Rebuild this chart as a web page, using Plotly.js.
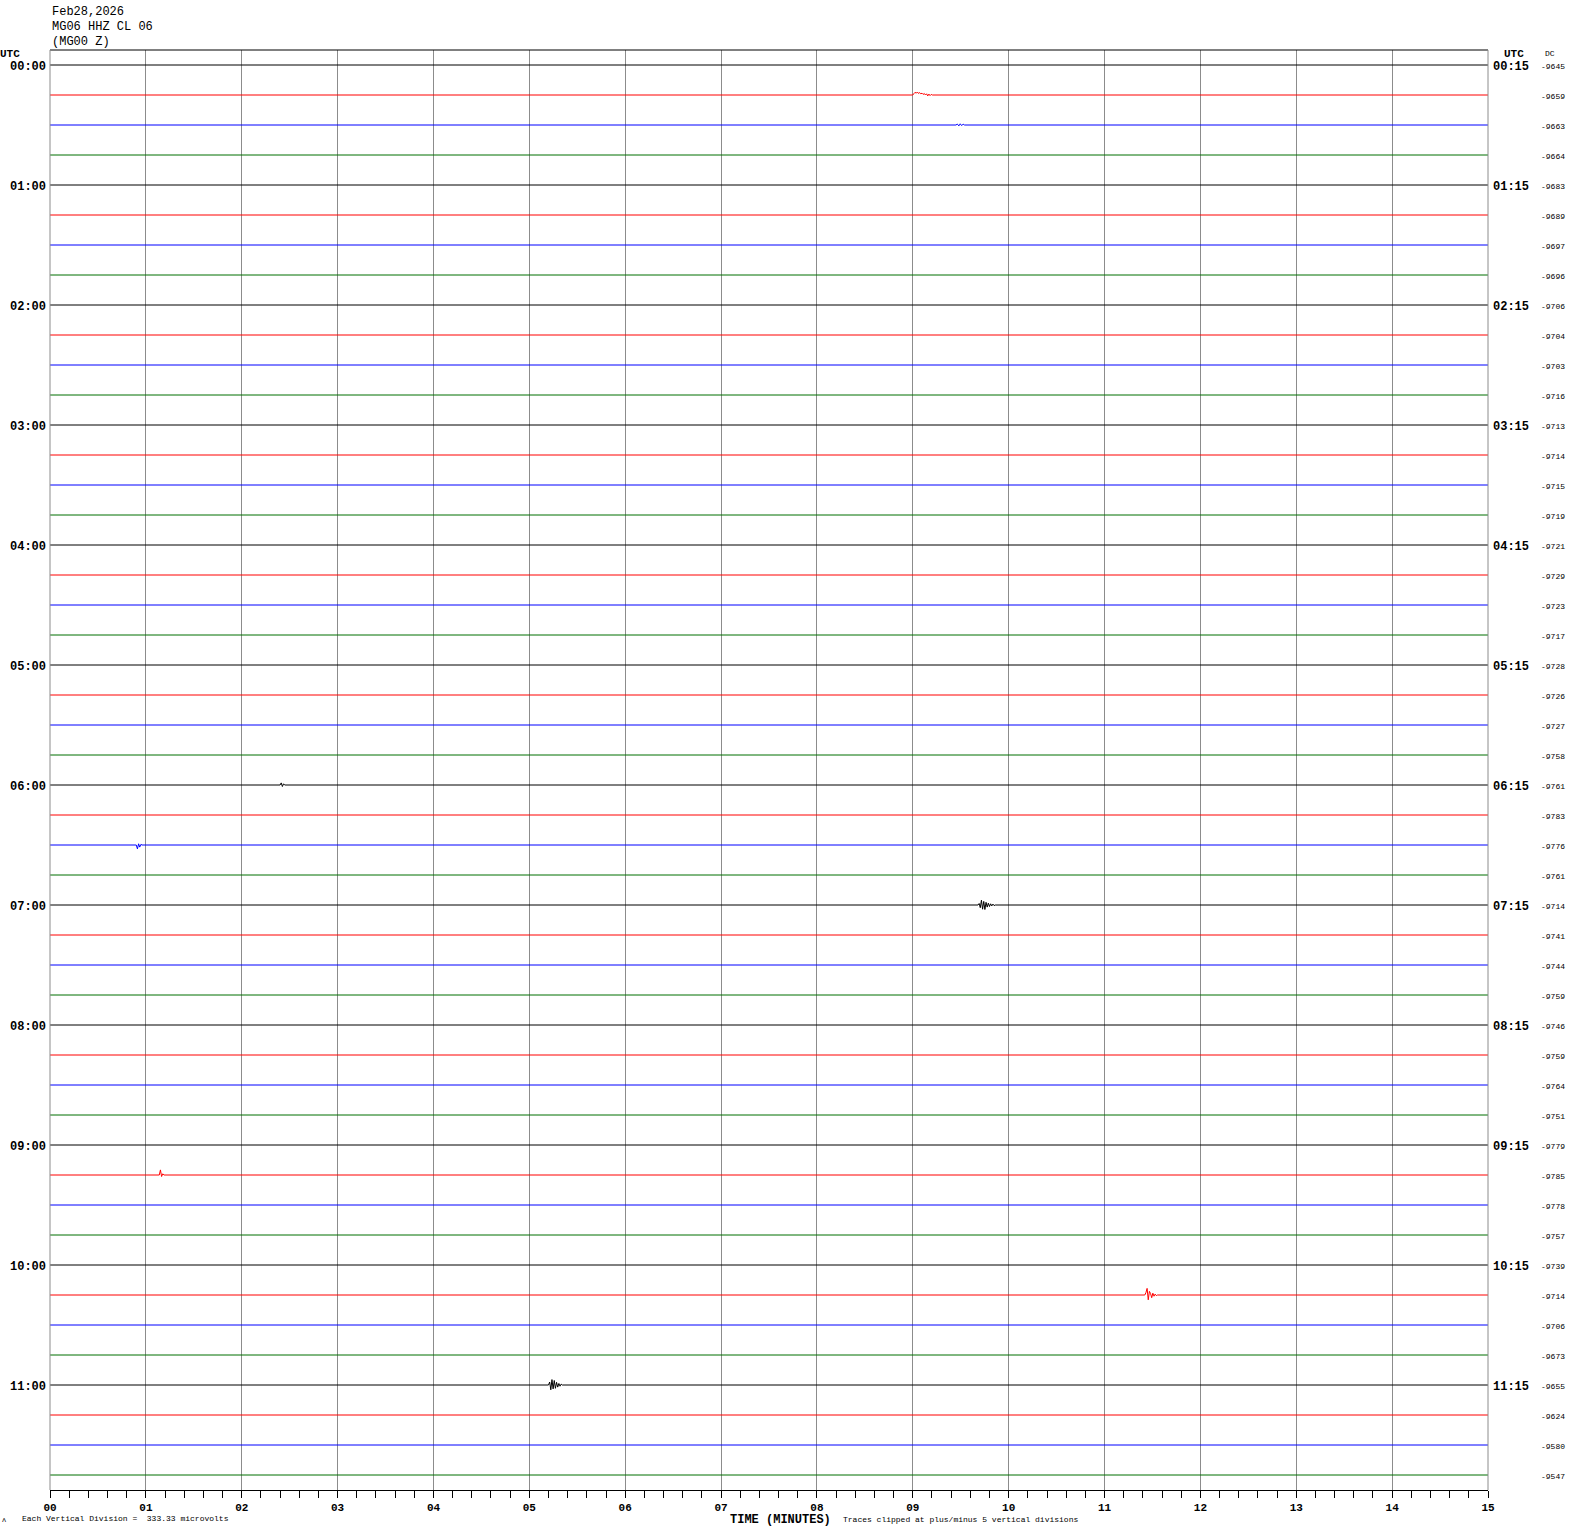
<!DOCTYPE html>
<html>
<head>
<meta charset="utf-8">
<script src="https://cdn.plot.ly/plotly-3.0.1.min.js"></script>
<style>
html,body{margin:0;padding:0;background:#fff;}
#chart{width:1570px;height:1534px;}
</style>
</head>
<body>
<div id="chart"></div>
<script>
// ---------- data ----------
const headerLines = ['Feb28,2026', 'MG06 HHZ CL 06', '(MG00 Z)'];
const leftHourLabels = ['00:00','01:00','02:00','03:00','04:00','05:00','06:00','07:00','08:00','09:00','10:00','11:00'];
const rightHourLabels = ['00:15','01:15','02:15','03:15','04:15','05:15','06:15','07:15','08:15','09:15','10:15','11:15'];
const dcValues = [
  -9645, -9659, -9663, -9664,
  -9683, -9689, -9697, -9696,
  -9706, -9704, -9703, -9716,
  -9713, -9714, -9715, -9719,
  -9721, -9729, -9723, -9717,
  -9728, -9726, -9727, -9758,
  -9761, -9783, -9776, -9761,
  -9714, -9741, -9744, -9759,
  -9746, -9759, -9764, -9751,
  -9779, -9785, -9778, -9757,
  -9739, -9714, -9706, -9673,
  -9655, -9624, -9580, -9547
];
const minuteLabels = ['00','01','02','03','04','05','06','07','08','09','10','11','12','13','14','15'];
const minuteValues = [0,1,2,3,4,5,6,7,8,9,10,11,12,13,14,15];
// notable events (row index, start minute, sample step in minutes, amplitudes in row units, + = up)
const eventRows   = [1, 2, 24, 26, 28, 37, 41, 44];
const eventStarts = [9.0, 9.45, 2.40, 0.90, 9.68, 1.14, 11.42, 5.20];
const eventSteps  = [0.012, 0.015, 0.012, 0.012, 0.012, 0.012, 0.012, 0.012];
const eventAmps = [
  [0, 0.05, 0.09, 0.06, 0.10, 0.05, 0.08, 0.04, 0.06, 0.02, 0.05, 0.0, 0.04, -0.03, 0.03, -0.02, 0.02, 0],
  [0, 0.03, -0.03, 0.04, -0.02, 0.03, 0],
  [0, 0.07, -0.05, 0.04, 0],
  [0, -0.13, 0.04, -0.07, 0.02, 0],
  [0, 0.05, -0.09, 0.16, -0.14, 0.12, -0.15, 0.09, -0.07, 0.06, -0.05, 0.04, -0.03, 0.03, -0.02, 0],
  [0, 0.17, -0.05, 0.04, 0],
  [0, 0.08, 0.22, -0.16, 0.12, 0.05, -0.09, 0.06, -0.04, 0.03, -0.02, 0],
  [0, 0.10, -0.16, 0.18, -0.13, 0.15, -0.11, 0.09, -0.07, 0.05, -0.04, 0.03, 0]
];
const bottomNote = 'Each Vertical Division =  333.33 microvolts';
const clipNote = 'Traces clipped at plus/minus 5 vertical divisions';
const xTitle = 'TIME (MINUTES)';

// ---------- styles ----------
const rowColors = ['#000000', '#ff0000', '#0000ff', '#006e00'];
const nRows = dcValues.length;
const L = 50, R = 1488, T = 50, B = 1490;
const px2x = p => (p - L) / (R - L);
const py2y = p => (B - p) / (B - T);
const mono = 'Liberation Mono, DejaVu Sans Mono, monospace';

// ---------- traces ----------
const traces = [];
for (let r = 0; r < nRows; r++) {
  const xs = [0], ys = [r];
  const evIdx = [];
  eventRows.forEach((er, i) => { if (er === r) evIdx.push(i); });
  evIdx.sort((a, b) => eventStarts[a] - eventStarts[b]);
  evIdx.forEach(i => {
    eventAmps[i].forEach((a, k) => {
      xs.push(eventStarts[i] + k * eventSteps[i]);
      ys.push(r - a);
    });
  });
  xs.push(15); ys.push(r);
  traces.push({
    x: xs, y: ys, type: 'scatter', mode: 'lines',
    line: {color: rowColors[r % 4], width: 1},
    hoverinfo: 'skip', showlegend: false
  });
}

// ---------- annotations ----------
const ann = [];
headerLines.forEach((t, i) => {
  ann.push({text: t, xref: 'paper', yref: 'paper', x: 0, y: py2y(12 + i * 15),
    xanchor: 'left', yanchor: 'middle', showarrow: false,
    font: {family: mono, size: 12, color: '#000'}});
});
ann.push({text: 'UTC', xref: 'paper', yref: 'paper', x: px2x(10), y: py2y(54),
  xanchor: 'center', yanchor: 'middle', showarrow: false,
  font: {family: mono, size: 11, color: '#000', weight: 'bold'}});
ann.push({text: 'UTC', xref: 'paper', yref: 'paper', x: px2x(1514), y: py2y(54),
  xanchor: 'center', yanchor: 'middle', showarrow: false,
  font: {family: mono, size: 11, color: '#000', weight: 'bold'}});
ann.push({text: 'DC', xref: 'paper', yref: 'paper', x: px2x(1550), y: py2y(54),
  xanchor: 'center', yanchor: 'middle', showarrow: false,
  font: {family: mono, size: 8, color: '#000'}});
leftHourLabels.forEach((t, i) => {
  ann.push({text: t, xref: 'paper', yref: 'y', x: 0, y: i * 4, xshift: -2, yshift: -2,
    xanchor: 'right', yanchor: 'middle', showarrow: false,
    font: {family: mono, size: 12, color: '#000', weight: 'bold'}});
});
rightHourLabels.forEach((t, i) => {
  ann.push({text: t, xref: 'paper', yref: 'y', x: 1, y: i * 4, xshift: 3, yshift: -2,
    xanchor: 'left', yanchor: 'middle', showarrow: false,
    font: {family: mono, size: 12, color: '#000', weight: 'bold'}});
});
dcValues.forEach((v, i) => {
  ann.push({text: String(v), xref: 'paper', yref: 'y', x: px2x(1539), y: i, yshift: -1,
    xanchor: 'left', yanchor: 'middle', showarrow: false,
    font: {family: mono, size: 8, color: '#000'}});
});
ann.push({text: bottomNote, xref: 'paper', yref: 'paper', x: px2x(20), y: py2y(1518),
  xanchor: 'left', yanchor: 'middle', showarrow: false,
  font: {family: mono, size: 8, color: '#000'}});
ann.push({text: 'ʌ', xref: 'paper', yref: 'paper', x: px2x(4), y: py2y(1520),
  xanchor: 'center', yanchor: 'middle', showarrow: false,
  font: {family: 'DejaVu Sans', size: 7, color: '#000'}});
ann.push({text: xTitle, xref: 'paper', yref: 'paper', x: px2x(781), y: py2y(1520),
  xanchor: 'center', yanchor: 'middle', showarrow: false,
  font: {family: mono, size: 12, color: '#000', weight: 'bold'}});
ann.push({text: clipNote, xref: 'paper', yref: 'paper', x: px2x(841), y: py2y(1519),
  xanchor: 'left', yanchor: 'middle', showarrow: false,
  font: {family: mono, size: 8, color: '#000'}});

// ---------- layout ----------
const layout = {
  width: 1570, height: 1534,
  margin: {l: L, r: 1570 - R, t: T, b: 1534 - B, pad: 0},
  paper_bgcolor: '#ffffff', plot_bgcolor: '#ffffff',
  showlegend: false,
  xaxis: {
    range: [0, 15], tickmode: 'array', tickvals: minuteValues, ticktext: minuteLabels,
    ticks: 'outside', ticklen: 7, tickwidth: 1, tickcolor: '#000',
    showline: true, linecolor: '#000', linewidth: 1,
    showgrid: true, gridcolor: '#8c8c8c', gridwidth: 1, zeroline: false,
    tickfont: {family: mono, size: 11, color: '#000', weight: 'bold'},
    minor: {dtick: 0.2, tick0: 0, ticks: 'outside', ticklen: 7, tickwidth: 1, tickcolor: '#000', showgrid: false},
    fixedrange: true
  },
  yaxis: {
    range: [nRows - 0.5, -0.5], showticklabels: false, ticks: '',
    showgrid: false, zeroline: false, showline: false, fixedrange: true
  },
  shapes: [
    {type: 'line', xref: 'paper', yref: 'paper', x0: 0, x1: 1, y0: 1, y1: 1, line: {color: '#000', width: 1}},
    {type: 'line', xref: 'paper', yref: 'paper', x0: 0, x1: 0, y0: 0, y1: 1, line: {color: '#8c8c8c', width: 1}},
    {type: 'line', xref: 'paper', yref: 'paper', x0: 1, x1: 1, y0: 0, y1: 1, line: {color: '#8c8c8c', width: 1}}
  ],
  annotations: ann
};

Plotly.newPlot('chart', traces, layout, {displayModeBar: false, staticPlot: true});
</script>
</body>
</html>
